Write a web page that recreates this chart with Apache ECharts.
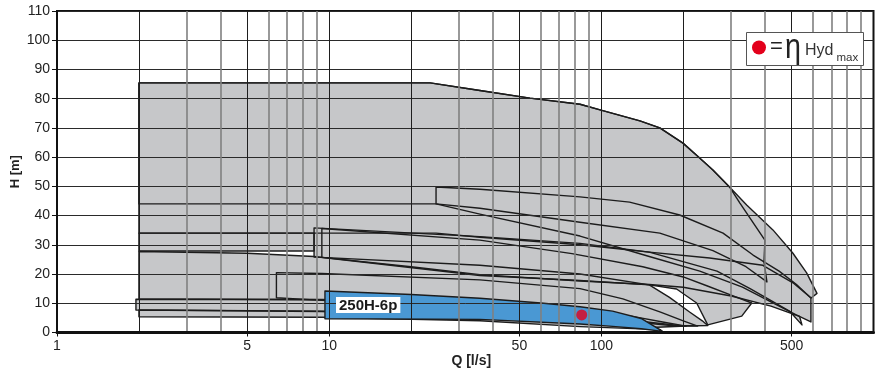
<!DOCTYPE html>
<html><head><meta charset="utf-8">
<script src="https://cdn.jsdelivr.net/npm/echarts@6/dist/echarts.min.js"></script>
<style>html,body{margin:0;padding:0;background:#fff}#c{width:875px;height:378px}</style>
</head><body><div id="c"></div>
<script>
// ---- axis ticks ----
const xLabelValues = [1, 5, 10, 50, 100, 500];
const xMajorLines = [2, 5, 10, 20, 50, 100, 200, 500];
const xMinorLines = [3, 4, 6, 7, 8, 9, 30, 40, 60, 70, 80, 90, 300, 400, 600, 700, 800, 900];
const yMin = 0, yMax = 110, yStep = 10;

// ---- pump ranges: Q [l/s], H [m] (polygon vertices) ----
const rangeA_Q = [2, 23.5, 35.8, 54.7, 83.5, 99.7, 138.6, 164, 199.5, 226, 257, 297, 342, 427, 505, 568, 620, 590, 506, 392, 250, 150, 83.5, 35.8, 24.7, 2];
const rangeA_H = [85.4, 85.4, 82.8, 80.2, 78.1, 76.1, 72.4, 70, 64.8, 60.3, 55.6, 49.6, 43.6, 35.1, 27.2, 20.4, 13.4, 11.8, 17, 23, 25.5, 27.5, 30, 32.6, 34, 34];
const rangeB_Q = [2, 23.5, 35.8, 54.7, 83.5, 99.7, 138.6, 164, 199.5, 226, 257, 297, 323, 399, 396, 406, 340, 257, 164, 83.5, 35.8, 24.7, 2];
const rangeB_H = [85.4, 85.4, 82.8, 80.2, 78.1, 76.1, 72.4, 70, 64.8, 60.3, 55.6, 49.6, 44.3, 31.6, 24.1, 17.3, 22.5, 28, 34, 37.7, 42.5, 44, 44];
const rangeC_Q = [24.7, 35.8, 83.5, 127, 194, 280, 361, 450, 520, 589, 589, 520, 420, 330, 230, 150, 83.5, 35.8, 24.7];
const rangeC_H = [49.8, 49, 46.4, 44.6, 40.2, 34, 26.5, 21, 16.5, 11.8, 3.6, 6, 10.5, 15.5, 21, 26, 33, 40.5, 44];
const rangeD_Q = [8.8, 35.8, 83.5, 150, 266, 352, 493, 546, 535, 420, 300, 200, 150, 83.5, 35.8, 20, 9.4, 8.8];
const rangeD_H = [35.8, 32.8, 30.5, 27.5, 21, 15, 7.2, 2.6, 5.5, 9, 12.5, 15.5, 16.4, 17.6, 19.8, 22.5, 25.7, 25.8];
const rangeD2_Q = [9.4, 35.8, 78, 142, 200, 244, 300, 357, 328, 246, 224, 189, 150, 83.5, 35.8, 9.4];
const rangeD2_H = [35.6, 31.6, 27, 22.5, 19, 16, 12.8, 10.1, 5.6, 2.6, 10.1, 14.9, 16.3, 20, 23, 25.7];
const rangeR_Q = [2, 8.8, 8.8, 2];
const rangeR_H = [34, 34, 27.9, 27.9];
const rangeE_Q = [2, 5, 8.8, 35.8, 83.5, 150, 178, 211, 235, 246, 200, 150, 83.5, 35.8, 9.4, 2];
const rangeE_H = [27.7, 27.1, 26, 19.5, 17.8, 16.3, 12, 7, 4, 2.4, 2.2, 3.5, 6.5, 9.5, 11.2, 11.5];
const rangeF_Q = [6.4, 9.4, 35.8, 83.5, 120, 165, 200, 226, 180, 120, 60, 35.8, 9.4, 6.4];
const rangeF_H = [20.5, 20.2, 18, 15, 11.5, 7, 4, 2.2, 2.4, 4, 7, 8.5, 11, 11.9];
const rangeG1_Q = [1.95, 9.4, 35.8, 83.5, 130, 170, 205, 160, 83.5, 35.8, 9.4, 1.95];
const rangeG1_H = [11.4, 11.3, 10.3, 8, 5.5, 3.5, 2.2, 1.8, 3.5, 5.5, 7.2, 7.7];
const rangeG2_Q = [2, 9.4, 35.8, 83.5, 130, 165, 83.5, 35.8, 9.4, 2];
const rangeG2_H = [7.7, 7.3, 6.2, 4.2, 2.2, 1, 2, 4, 5.2, 5.4];
// highlighted model 250H-6p
const model250_Q = [9.65, 20, 35.8, 60, 83.5, 110, 140, 168, 140, 110, 83.5, 35.8, 9.65];
const model250_H = [14.2, 13, 11.7, 10.1, 8.8, 7.3, 4.8, 0.4, 1.3, 2.1, 2.9, 4.5, 4.7];
const modelName = '250H-6p';
const etaMaxPoint_Q = [84.7];
const etaMaxPoint_H = [6.0];

const greyRanges = [
  {q: rangeA_Q, h: rangeA_H}, {q: rangeB_Q, h: rangeB_H}, {q: rangeC_Q, h: rangeC_H},
  {q: rangeD_Q, h: rangeD_H}, {q: rangeD2_Q, h: rangeD2_H}, {q: rangeR_Q, h: rangeR_H},
  {q: rangeE_Q, h: rangeE_H}, {q: rangeF_Q, h: rangeF_H}, {q: rangeG1_Q, h: rangeG1_H},
  {q: rangeG2_Q, h: rangeG2_H}
];
const blueRanges = [{q: model250_Q, h: model250_H}];

const FONT = '"Liberation Sans", Arial, sans-serif';
const lg = v => Math.log10(v);

function polySeries(list, styleFn, z) {
  return {
    type: 'custom', xAxisIndex: 0, yAxisIndex: 0, z: z,
    data: list.map((s, i) => [s.q[0], s.h[0], i]),
    encode: {x: 0, y: 1},
    silent: true,
    renderItem: function (params, api) {
      const s = list[api.value(2)];
      const pts = s.q.map((q, k) => api.coord([q, s.h[k]]));
      return {type: 'polygon', shape: {points: pts}, style: styleFn()};
    }
  };
}

const chart = echarts.init(document.getElementById('c'), null, {renderer: 'canvas'});
const hiddenValueAxis = {
  type: 'value', min: 0, max: 3, position: 'bottom', z: 2,
  axisLine: {show: false}, axisLabel: {show: false}
};
chart.setOption({
  animation: false,
  grid: {left: 57, right: 1.5, top: 11, bottom: 45.5, show: true, borderColor: '#111', borderWidth: 2,
         containLabel: false, outerBoundsMode: 'none'},
  xAxis: [
    {type: 'log', logBase: 10, min: 1, max: 1000, show: false},
    Object.assign({}, hiddenValueAxis, {
      axisTick: {show: false, customValues: xMinorLines.map(lg)},
      splitLine: {show: true, lineStyle: {color: '#808080', width: 1.6}}
    }),
    Object.assign({}, hiddenValueAxis, {
      axisTick: {show: false, customValues: xMajorLines.map(lg)},
      splitLine: {show: true, lineStyle: {color: '#1e1e1e', width: 1}}
    }),
    {
      type: 'value', min: 0, max: 3, position: 'bottom', z: 2,
      axisLine: {show: true, onZero: false, lineStyle: {color: '#111', width: 3}},
      axisTick: {show: true, length: 4, customValues: xLabelValues.map(lg), lineStyle: {color: '#111', width: 1}},
      axisLabel: {
        customValues: xLabelValues.map(lg), margin: 7, color: '#222', fontSize: 14, fontFamily: FONT,
        formatter: v => String(Math.round(Math.pow(10, v)))
      },
      splitLine: {show: false},
      name: 'Q [l/s]', nameLocation: 'middle', nameGap: 22, nameMoveOverlap: false,
      nameTextStyle: {fontWeight: 'bold', fontSize: 14, color: '#222', fontFamily: FONT, padding: [0, 0, 0, 12]}
    }
  ],
  yAxis: {
    type: 'value', min: yMin, max: yMax, interval: yStep, z: 2,
    axisLine: {show: true, lineStyle: {color: '#111', width: 2}},
    axisTick: {show: true, length: 5, lineStyle: {color: '#111'}},
    axisLabel: {margin: 7, color: '#222', fontSize: 14, fontFamily: FONT},
    splitLine: {show: true, lineStyle: {color: '#2a2a2a', width: 1}},
    name: 'H [m]', nameLocation: 'middle', nameGap: 35.5, nameMoveOverlap: false,
    nameTextStyle: {fontWeight: 'bold', fontSize: 13, color: '#222', fontFamily: FONT}
  },
  series: [
    polySeries(greyRanges, () => ({fill: '#c6c7c9', stroke: null}), 1),
    polySeries(greyRanges, () => ({fill: 'none', stroke: '#1c1c1c', lineWidth: 1.4, lineJoin: 'round'}), 1),
    polySeries(blueRanges, () => ({fill: '#4a98d3', stroke: '#1c1c1c', lineWidth: 1.4, lineJoin: 'round'}), 1),
    {
      type: 'scatter', xAxisIndex: 0, yAxisIndex: 0, z: 10, silent: true,
      symbolSize: 11, itemStyle: {color: '#e3001b'},
      data: etaMaxPoint_Q.map((q, i) => [q, etaMaxPoint_H[i]])
    }
  ],
  graphic: [
    {
      type: 'text', left: 336, top: 297, z: 20,
      style: {text: modelName, font: 'bold 15px ' + FONT, fill: '#1a1a1a', backgroundColor: '#fff', padding: [1, 3, 0, 3]}
    },
    {type: 'rect', z: 20, shape: {x: 746.5, y: 32.5, width: 117, height: 33}, style: {fill: '#fff', stroke: '#555', lineWidth: 1}},
    {type: 'circle', z: 21, shape: {cx: 759, cy: 47.5, r: 7}, style: {fill: '#e3001b'}},
    {type: 'text', z: 21, x: 770, y: 47, style: {text: '=', font: '22px ' + FONT, fill: '#222', verticalAlign: 'middle'}},
    {type: 'text', z: 21, x: 785, y: 48, scaleX: 0.82, style: {text: 'η', font: '35px ' + FONT, fill: '#222', verticalAlign: 'middle'}},
    {type: 'text', z: 21, x: 805, y: 50.4, style: {text: 'Hyd', font: '16px ' + FONT, fill: '#333', verticalAlign: 'middle'}},
    {type: 'text', z: 21, x: 836.5, y: 57.7, style: {text: 'max', font: '11.5px ' + FONT, fill: '#333', verticalAlign: 'middle'}}
  ]
});
</script></body></html>
